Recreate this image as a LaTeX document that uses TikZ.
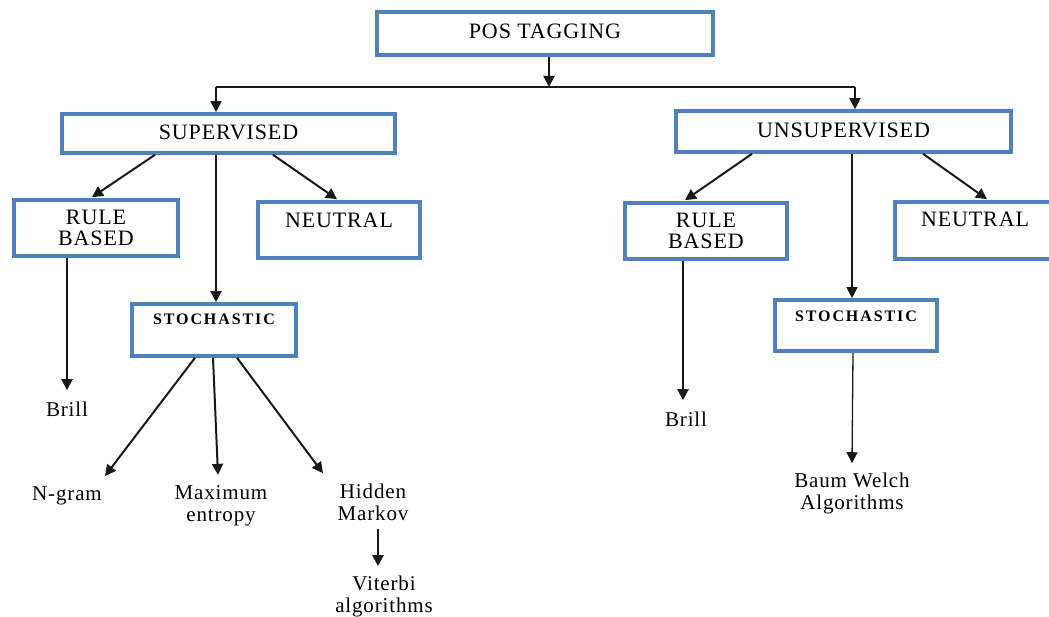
\documentclass[tikz,border=0pt]{standalone}
\usepackage{fontspec}
\setmainfont{Liberation Serif}[LetterSpace=4]
\usetikzlibrary{arrows.meta}
\definecolor{boxblue}{RGB}{79,129,189}
\definecolor{inkgray}{RGB}{25,25,25}
\tikzset{
  box/.style={draw=boxblue, line width=3.6pt, rectangle, inner sep=0pt,
    font=\fontsize{22}{21}\selectfont, align=center},
  stoch/.style={box, font=\fontsize{16}{18}\selectfont\bfseries\addfontfeatures{LetterSpace=12}},
  lbl/.style={inner sep=0pt, font=\fontsize{21}{22}\selectfont, align=center, anchor=base},
  arr/.style={draw=inkgray, line width=2pt, -{Triangle[length=11pt,width=11pt]}},
  thinarr/.style={draw=inkgray, line width=1.3pt, -{Triangle[length=11pt,width=11pt]}},
  bus/.style={draw=inkgray, line width=1.8pt}
}
\begin{document}
\begin{tikzpicture}[x=1pt,y=-1pt]
\useasboundingbox (0,0) rectangle (1049,617);
% boxes
\node[box, minimum width=336pt, minimum height=43pt, text height=26.5pt, text depth=16.5pt] (pos) at (545,33.5) {POS TAGGING};
\node[box, minimum width=333pt, minimum height=39pt, text height=26pt, text depth=13pt] (sup) at (228.5,133.5) {SUPERVISED};
\node[box, minimum width=335pt, minimum height=41pt, text height=27pt, text depth=14pt] (uns) at (843.5,131.5) {UNSUPERVISED};
\node[box, minimum width=164pt, minimum height=56pt] (rbl) at (96,228) {RULE\\BASED};
\node[box, minimum width=162pt, minimum height=56pt, text height=26pt, text depth=30pt] (neul) at (339,230) {NEUTRAL};
\node[box, minimum width=162pt, minimum height=56pt] (rbr) at (706,231) {RULE\\BASED};
\node[box, minimum width=160pt, minimum height=57pt, text height=25pt, text depth=32pt] (neur) at (975,230.5) {NEUTRAL};
\node[stoch, minimum width=164pt, minimum height=52pt, text height=21pt, text depth=31pt] (stl) at (214,330) {STOCHASTIC};
\node[stoch, minimum width=162pt, minimum height=51pt, text height=22pt, text depth=29pt] (str) at (856,325.5) {STOCHASTIC};
% leaf labels (base = baseline of the last line)
\node[lbl] (brl) at (67,416) {Brill};
\node[lbl] (ngram) at (67,500) {N-gram};
\node[lbl] (maxe) at (221,521) {Maximum\\entropy};
\node[lbl] (hmm) at (373,520) {Hidden\\Markov};
\node[lbl] (vit) at (384,612) {Viterbi\\algorithms};
\node[lbl] (brr) at (686,426) {Brill};
\node[lbl] (baum) at (852,509) {Baum Welch\\Algorithms};
% bus
\coordinate (busmid) at (549,87);
\coordinate (busl) at (216,87);
\coordinate (busr) at (855,87);
\draw[arr] ([xshift=4pt]pos.south) -- (busmid);
\draw[bus] (busl) -- (busr);
\draw[arr] (busl) -- (sup.north -| busl);
\draw[arr] (busr) -- (uns.north -| busr);
% supervised branch
\draw[arr] ([xshift=-73.5pt]sup.south) -- ([xshift=-4pt,yshift=1pt]rbl.north);
\draw[arr] ([xshift=44.5pt]sup.south) -- ([xshift=-2pt,yshift=1pt]neul.north);
\draw[arr] ([xshift=-12.5pt]sup.south) -- ([xshift=2pt]stl.north);
\draw[arr] ([xshift=-29pt]rbl.south) -- ([yshift=11pt]brl.north);
\draw[arr] ([xshift=-19pt]stl.south) -- ([xshift=38pt,yshift=10pt]ngram.north);
\draw[arr] ([xshift=-1pt]stl.south) -- ([xshift=-3pt,yshift=10pt]maxe.north);
\draw[arr] ([xshift=23pt]stl.south) -- ([xshift=-50pt,yshift=10pt]hmm.north);
\draw[arr] ([xshift=5pt,yshift=-9pt]hmm.south) -- ([xshift=-6pt,yshift=9pt]vit.north);
% unsupervised branch
\draw[arr] ([xshift=-91.5pt]uns.south) -- ([xshift=-21pt,yshift=1pt]rbr.north);
\draw[arr] ([xshift=79.5pt]uns.south) -- ([xshift=12pt,yshift=1pt]neur.north);
\draw[thinarr] ([xshift=8.5pt]uns.south) -- ([xshift=-4pt]str.north);
\draw[arr] ([xshift=-23pt]rbr.south) -- ([xshift=-3pt,yshift=11pt]brr.north);
\draw[thinarr] ([xshift=-3pt]str.south) -- ([yshift=9pt]baum.north);
\end{tikzpicture}
\end{document}
